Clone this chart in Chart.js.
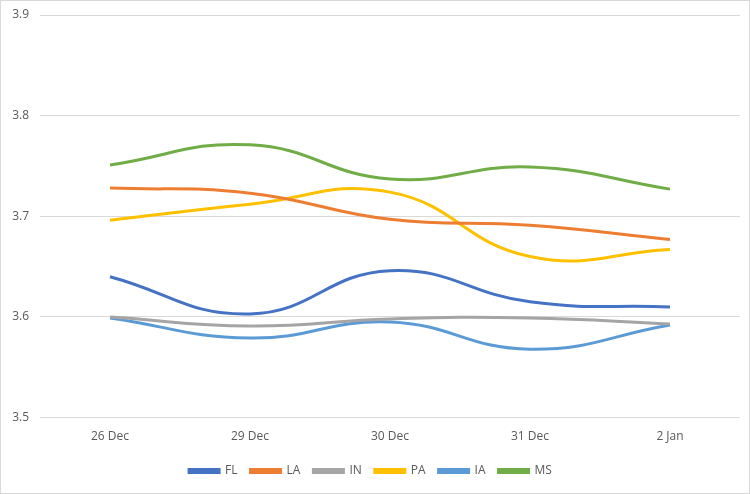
<!DOCTYPE html>
<html>
<head>
<meta charset="utf-8">
<script src="https://cdn.jsdelivr.net/npm/chart.js@4"></script>
<style>
  body { margin: 0; background: #fff; }
  .wrap {
    position: absolute; left: 0; top: 0;
    width: 750px; height: 494px;
    box-sizing: border-box;
    border: 1px solid #d9d9d9;
  }
  canvas { display: block; }
</style>
</head>
<body>
<div class="wrap"><canvas id="stateChart" width="748" height="492"></canvas></div>
<script>
// data
const days = ['26 Dec', '29 Dec', '30 Dec', '31 Dec', '2 Jan'];
const fl = [3.640, 3.603, 3.646, 3.615, 3.610];
const la = [3.728, 3.723, 3.697, 3.691, 3.677];
const inn = [3.600, 3.591, 3.598, 3.599, 3.593];
const pa = [3.696, 3.712, 3.724, 3.660, 3.667];
const ia = [3.599, 3.579, 3.595, 3.568, 3.592];
const ms = [3.751, 3.771, 3.737, 3.749, 3.727];
const yTicks = [3.5, 3.6, 3.7, 3.8, 3.9];

function line(label, data, color) {
  return {
    label: label,
    data: data,
    borderColor: color,
    backgroundColor: color,
    borderWidth: 3,
    pointRadius: 0,
    tension: 0.45,
    fill: false
  };
}

const ctx = document.getElementById('stateChart').getContext('2d');
const stateChart = new Chart(ctx, {
  type: 'line',
  data: {
    labels: days,
    datasets: [
      line('FL', fl, '#4472c4'),
      line('LA', la, '#ed7d31'),
      line('IN', inn, '#a5a5a5'),
      line('PA', pa, '#ffc000'),
      line('IA', ia, '#5b9bd5'),
      line('MS', ms, '#70ad47')
    ]
  },
  options: {
    responsive: false,
    animation: false,
    layout: { padding: { left: 0, right: 9, top: 12, bottom: 6 } },
    plugins: {
      tooltip: { enabled: false },
      legend: {
        position: 'bottom',
        labels: {
          boxWidth: 30,
          boxHeight: 3,
          padding: 13,
          color: '#595959',
          font: { family: 'Open Sans', size: 12 }
        }
      }
    },
    scales: {
      x: {
        offset: true,
        grid: { display: false },
        border: { display: false },
        afterFit: function (scale) {
          scale.height += 4;
        },
        ticks: {
          padding: 4,
          color: '#595959',
          font: { family: 'Open Sans', size: 12 }
        }
      },
      y: {
        min: yTicks[0],
        max: yTicks[yTicks.length - 1],
        afterBuildTicks: function (scale) {
          scale.ticks = yTicks.map(v => ({ value: v }));
        },
        afterFit: function (scale) {
          scale.width = 39;
        },
        grid: { color: '#d9d9d9', lineWidth: 1, drawTicks: false },
        border: { display: false },
        ticks: {
          padding: 11,
          color: '#595959',
          font: { family: 'Open Sans', size: 12, lineHeight: 0.5 },
          callback: function (value) {
            return value.toFixed(1);
          }
        }
      }
    }
  }
});
</script>
</body>
</html>
